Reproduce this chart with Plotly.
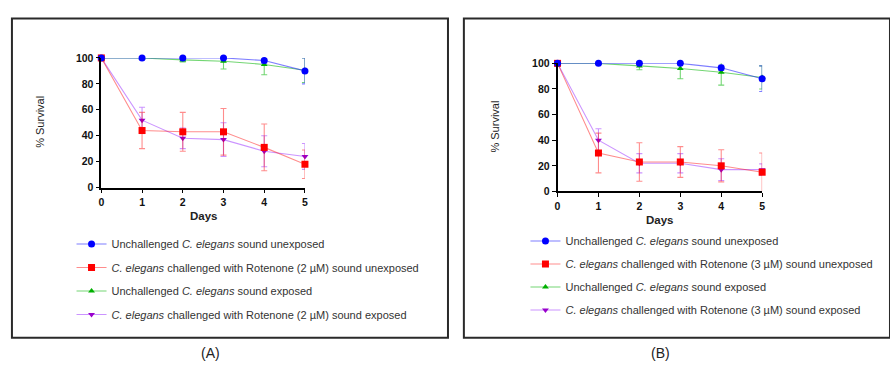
import plotly.graph_objects as go

days = [0, 1, 2, 3, 4, 5]

# Panel A (Rotenone 2 µM)
a_blue = [100, 100, 100, 100, 98, 90]
a_blue_err = [0, 0, 0, 0, 2, 10]
a_red = [100, 44, 43, 43, 31, 18]
a_red_err = [0, 14, 15, 18, 18, 11]
a_green = [100, 100, 98.5, 97.5, 95, 90.5]
a_green_err = [0, 0.5, 1.5, 6, 8, 9.5]
a_purple = [100, 52, 38, 37, 28, 24]
a_purple_err = [0, 10, 8, 13, 12, 10]

# Panel B (Rotenone 3 µM)
b_blue = [100, 100, 100, 100, 96.5, 88]
b_blue_err = [0, 0, 0, 0, 2, 10]
b_red = [100, 30, 23, 23, 20, 15]
b_red_err = [0, 15.5, 15, 12, 12.5, 15]
b_green = [100, 100, 98, 96, 93, 89]
b_green_err = [0, 0.5, 3, 8, 10, 9]
b_purple = [100, 40, 22, 22, 17, 17]
b_purple_err = [0, 9, 7.5, 7.5, 8.5, 4.5]

y_ticks = [0, 20, 40, 60, 80, 100]

W, H = 890, 367
def px(x): return x / W
def py(y): return 1 - y / H

styles = {
    "blue": dict(mc="#0000FF", lc="rgba(40,40,255,0.6)", sym="circle", size=7, rank=1),
    "red": dict(mc="#FF0000", lc="rgba(255,0,0,0.45)", sym="square", size=7, rank=2),
    "green": dict(mc="#00B000", lc="rgba(0,180,0,0.55)", sym="triangle-up", size=6, rank=3),
    "purple": dict(mc="#9900CC", lc="rgba(160,60,255,0.55)", sym="triangle-down", size=6, rank=4),
}

def names(conc):
    return {
        "blue": "Unchallenged <i>C. elegans</i> sound unexposed",
        "red": f"<i>C. elegans</i> challenged with Rotenone ({conc} µM) sound unexposed",
        "green": "Unchallenged <i>C. elegans</i> sound exposed",
        "purple": f"<i>C. elegans</i> challenged with Rotenone ({conc} µM) sound exposed",
    }

fig = go.Figure()

panels = [
    ("x", "y", "legend", names(2), {"blue": (a_blue, a_blue_err), "red": (a_red, a_red_err),
                                    "green": (a_green, a_green_err), "purple": (a_purple, a_purple_err)}),
    ("x2", "y2", "legend2", names(3), {"blue": (b_blue, b_blue_err), "red": (b_red, b_red_err),
                                       "green": (b_green, b_green_err), "purple": (b_purple, b_purple_err)}),
]

for xa, ya, leg, nm, data in panels:
    for key in ["purple", "green", "red", "blue"]:
        s = styles[key]
        vals, err = data[key]
        fig.add_trace(go.Scatter(
            x=days, y=vals, xaxis=xa, yaxis=ya, legend=leg,
            name=nm[key], legendrank=s["rank"], legendgroup=leg + key,
            mode="lines+markers",
            line=dict(color=s["lc"], width=1.1),
            marker=dict(color=s["mc"], symbol=s["sym"], size=s["size"]),
            error_y=dict(type="data", array=err, visible=True, color=s["lc"], thickness=1.1, width=3),
            cliponaxis=False,
        ))

axis_common = dict(
    showgrid=False, zeroline=False, showline=True, linecolor="black", linewidth=1.6,
    ticks="outside", ticklen=4, tickwidth=1.4, tickcolor="black",
    tickfont=dict(family="Liberation Sans, Arial", size=10.5, color="#111", weight="bold"),
)

fig.update_layout(
    width=W, height=H, margin=dict(l=0, r=0, t=0, b=0),
    paper_bgcolor="white", plot_bgcolor="white",
    font=dict(family="Liberation Sans, Arial", color="#222"),
    xaxis=dict(domain=[px(99), px(304)], range=[0, 5], tickvals=days, anchor="y", **axis_common),
    yaxis=dict(domain=[py(187.7), py(53.7)], range=[0, 100], tickvals=y_ticks, anchor="x", **axis_common),
    xaxis2=dict(domain=[px(558.3), px(764.3)], range=[0, 5], tickvals=days, anchor="y2", **axis_common),
    yaxis2=dict(domain=[py(191.7), py(59.3)], range=[0, 100], tickvals=y_ticks, anchor="x2", **axis_common),
    legend=dict(x=px(69), y=py(231), xanchor="left", yanchor="top", tracegroupgap=4.5,
                font=dict(size=11, color="#333"), bgcolor="rgba(0,0,0,0)"),
    legend2=dict(x=px(526), y=py(228), xanchor="left", yanchor="top", tracegroupgap=4,
                 font=dict(size=11, color="#333"), bgcolor="rgba(0,0,0,0)"),
    showlegend=True,
)

shapes = [
    dict(type="rect", xref="paper", yref="paper", x0=px(9), x1=px(448), y0=py(343), y1=py(13),
         line=dict(color="#2a2a2a", width=2)),
    dict(type="rect", xref="paper", yref="paper", x0=px(464), x1=px(893), y0=py(343), y1=py(13),
         line=dict(color="#2a2a2a", width=2)),
]
fig.update_layout(shapes=shapes)

ann = [
    dict(text="<b>Days</b>", x=px(202), y=py(217), font=dict(size=11.5)),
    dict(text="% Survival", x=px(37), y=py(120), textangle=-90, font=dict(size=11)),
    dict(text="(A)", x=px(209), y=py(359), font=dict(size=14)),
    dict(text="<b>Days</b>", x=px(661), y=py(221), font=dict(size=11.5)),
    dict(text="% Survival", x=px(495), y=py(125), textangle=-90, font=dict(size=11)),
    dict(text="(B)", x=px(662), y=py(359), font=dict(size=14)),
]
for a in ann:
    fig.add_annotation(xref="paper", yref="paper", showarrow=False, xanchor="center", yanchor="middle", **a)

fig.write_html("out.html")
